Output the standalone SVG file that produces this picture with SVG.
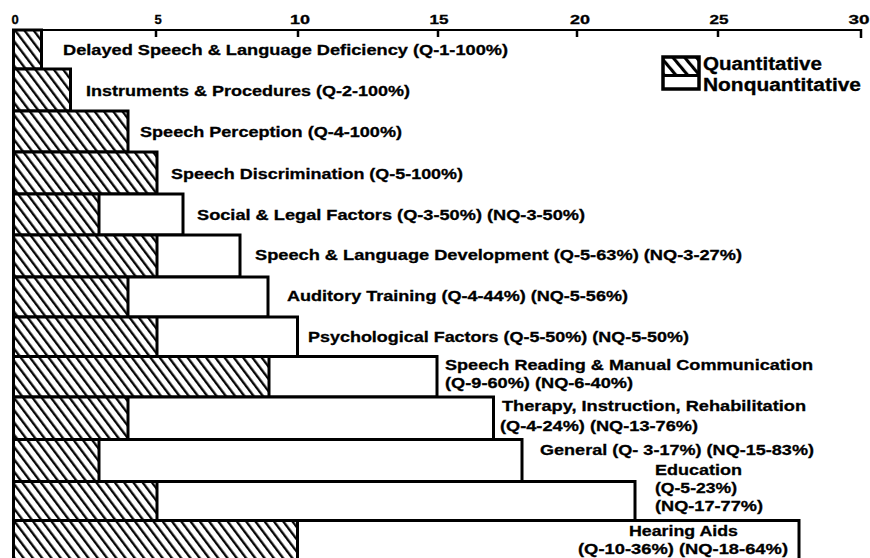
<svg xmlns="http://www.w3.org/2000/svg" width="870" height="558" viewBox="0 0 870 558">
<defs>
<pattern id="hatch" width="7.4" height="10" patternUnits="userSpaceOnUse" patternTransform="rotate(-37)">
<rect width="7.4" height="10" fill="#fff"/>
<line x1="1.2" y1="-1" x2="1.2" y2="11" stroke="#000" stroke-width="2.3"/>
</pattern>
<pattern id="hatchL" width="9" height="10" patternUnits="userSpaceOnUse" patternTransform="rotate(-40)">
<rect width="9" height="10" fill="#fff"/>
<line x1="1.5" y1="-1" x2="1.5" y2="11" stroke="#000" stroke-width="3.2"/>
</pattern>
<style>
.q{fill:url(#hatch);stroke:none}
.nq{fill:#fff;stroke:none}
.ol{fill:none;stroke:#000;stroke-width:3}
.dv{stroke:#000;stroke-width:3}
.lb{font-family:"Liberation Sans",Arial,Helvetica,sans-serif;font-weight:bold;font-size:15px;fill:#000;stroke:#000;stroke-width:0.3}
.ax{font-family:"Liberation Sans",Arial,Helvetica,sans-serif;font-weight:bold;font-size:13px;fill:#000;stroke:#000;stroke-width:0.3;text-anchor:middle}
.lg{font-family:"Liberation Sans",Arial,Helvetica,sans-serif;font-weight:bold;font-size:18px;fill:#000;stroke:#000;stroke-width:0.3}
.tk{stroke:#000;stroke-width:2.5}
</style>
</defs>
<rect width="870" height="558" fill="#fff"/>

<g id="axis">
<line x1="12" y1="30" x2="862" y2="30" stroke="#000" stroke-width="2.2"/>
<line class="tk" x1="156" y1="30" x2="156" y2="37"/>
<line class="tk" x1="298" y1="30" x2="298" y2="37"/>
<line class="tk" x1="438" y1="30" x2="438" y2="37"/>
<line class="tk" x1="577" y1="30" x2="577" y2="37"/>
<line class="tk" x1="718" y1="30" x2="718" y2="37"/>
<line class="tk" x1="861" y1="29" x2="861" y2="38"/>
<text class="ax" x="15" y="23.5">0</text>
<text class="ax" x="158" y="23.5">5</text>
<text class="ax" x="300" y="23.5" textLength="20" lengthAdjust="spacingAndGlyphs">10</text>
<text class="ax" x="439" y="23.5" textLength="19" lengthAdjust="spacingAndGlyphs">15</text>
<text class="ax" x="580" y="23.5" textLength="20" lengthAdjust="spacingAndGlyphs">20</text>
<text class="ax" x="719" y="23.5" textLength="19" lengthAdjust="spacingAndGlyphs">25</text>
<text class="ax" x="859" y="23.5" textLength="21" lengthAdjust="spacingAndGlyphs">30</text>
</g>

<g id="bar1">
<rect class="q" x="13.5" y="30" width="28" height="39"/>
<rect class="ol" x="13.5" y="30" width="28" height="39"/>
<text class="lb" x="63" y="55" textLength="445" lengthAdjust="spacingAndGlyphs">Delayed Speech &amp; Language Deficiency (Q-1-100%)</text>
</g>
<g id="bar2">
<rect class="q" x="13.5" y="69" width="57" height="42"/>
<rect class="ol" x="13.5" y="69" width="57" height="42"/>
<text class="lb" x="86" y="95.5" textLength="324" lengthAdjust="spacingAndGlyphs">Instruments &amp; Procedures (Q-2-100%)</text>
</g>
<g id="bar3">
<rect class="q" x="13.5" y="111" width="114.5" height="41"/>
<rect class="ol" x="13.5" y="111" width="114.5" height="41"/>
<text class="lb" x="140" y="137" textLength="262" lengthAdjust="spacingAndGlyphs">Speech Perception (Q-4-100%)</text>
</g>
<g id="bar4">
<rect class="q" x="13.5" y="152" width="143.5" height="42"/>
<rect class="ol" x="13.5" y="152" width="143.5" height="42"/>
<text class="lb" x="171" y="179" textLength="292" lengthAdjust="spacingAndGlyphs">Speech Discrimination (Q-5-100%)</text>
</g>
<g id="bar5">
<rect class="q" x="13.5" y="194" width="85.5" height="41"/>
<rect class="nq" x="99" y="194" width="84" height="41"/>
<line class="dv" x1="99" y1="194" x2="99" y2="235"/>
<rect class="ol" x="13.5" y="194" width="169.5" height="41"/>
<text class="lb" x="197" y="220" textLength="388" lengthAdjust="spacingAndGlyphs">Social &amp; Legal Factors (Q-3-50%) (NQ-3-50%)</text>
</g>
<g id="bar6">
<rect class="q" x="13.5" y="235" width="143.5" height="42"/>
<rect class="nq" x="157" y="235" width="83" height="42"/>
<line class="dv" x1="157" y1="235" x2="157" y2="277"/>
<rect class="ol" x="13.5" y="235" width="226.5" height="42"/>
<text class="lb" x="255" y="260" textLength="487" lengthAdjust="spacingAndGlyphs">Speech &amp; Language Development (Q-5-63%) (NQ-3-27%)</text>
</g>
<g id="bar7">
<rect class="q" x="13.5" y="277" width="114.5" height="40"/>
<rect class="nq" x="128" y="277" width="140" height="40"/>
<line class="dv" x1="128" y1="277" x2="128" y2="317"/>
<rect class="ol" x="13.5" y="277" width="254.5" height="40"/>
<text class="lb" x="287" y="301" textLength="341" lengthAdjust="spacingAndGlyphs">Auditory Training (Q-4-44%) (NQ-5-56%)</text>
</g>
<g id="bar8">
<rect class="q" x="13.5" y="317" width="143.5" height="39.5"/>
<rect class="nq" x="157" y="317" width="140.5" height="39.5"/>
<line class="dv" x1="157" y1="317" x2="157" y2="356.5"/>
<rect class="ol" x="13.5" y="317" width="284" height="39.5"/>
<text class="lb" x="308" y="342" textLength="381" lengthAdjust="spacingAndGlyphs">Psychological Factors (Q-5-50%) (NQ-5-50%)</text>
</g>
<g id="bar9">
<rect class="q" x="13.5" y="356.5" width="255.5" height="40.5"/>
<rect class="nq" x="269" y="356.5" width="168" height="40.5"/>
<line class="dv" x1="269" y1="356.5" x2="269" y2="397"/>
<rect class="ol" x="13.5" y="356.5" width="423.5" height="40.5"/>
<text class="lb" x="445" y="370" textLength="368" lengthAdjust="spacingAndGlyphs">Speech Reading &amp; Manual Communication</text>
<text class="lb" x="445" y="388" textLength="188" lengthAdjust="spacingAndGlyphs">(Q-9-60%) (NQ-6-40%)</text>
</g>
<g id="bar10">
<rect class="q" x="13.5" y="397" width="114.5" height="42.5"/>
<rect class="nq" x="128" y="397" width="365.5" height="42.5"/>
<line class="dv" x1="128" y1="397" x2="128" y2="439.5"/>
<rect class="ol" x="13.5" y="397" width="480" height="42.5"/>
<text class="lb" x="502" y="411" textLength="304" lengthAdjust="spacingAndGlyphs">Therapy, Instruction, Rehabilitation</text>
<text class="lb" x="500" y="431" textLength="198" lengthAdjust="spacingAndGlyphs">(Q-4-24%) (NQ-13-76%)</text>
</g>
<g id="bar11">
<rect class="q" x="13.5" y="439.5" width="85.5" height="42"/>
<rect class="nq" x="99" y="439.5" width="423" height="42"/>
<line class="dv" x1="99" y1="439.5" x2="99" y2="481.5"/>
<rect class="ol" x="13.5" y="439.5" width="508.5" height="42"/>
<text class="lb" x="540" y="455" textLength="274" lengthAdjust="spacingAndGlyphs">General (Q- 3-17%) (NQ-15-83%)</text>
</g>
<g id="bar12">
<rect class="q" x="13.5" y="481.5" width="143.5" height="39"/>
<rect class="nq" x="157" y="481.5" width="478" height="39"/>
<line class="dv" x1="157" y1="481.5" x2="157" y2="520.5"/>
<rect class="ol" x="13.5" y="481.5" width="621.5" height="39"/>
<text class="lb" x="655" y="475" textLength="87" lengthAdjust="spacingAndGlyphs">Education</text>
<text class="lb" x="655" y="493" textLength="82" lengthAdjust="spacingAndGlyphs">(Q-5-23%)</text>
<text class="lb" x="655" y="511" textLength="108" lengthAdjust="spacingAndGlyphs">(NQ-17-77%)</text>
</g>
<g id="bar13">
<rect class="q" x="13.5" y="520.5" width="284" height="42"/>
<rect class="nq" x="297.5" y="520.5" width="501.5" height="42"/>
<line class="dv" x1="297.5" y1="520.5" x2="297.5" y2="562.5"/>
<rect class="ol" x="13.5" y="520.5" width="785.5" height="42"/>
<text class="lb" x="629" y="536" textLength="109" lengthAdjust="spacingAndGlyphs">Hearing Aids</text>
<text class="lb" x="578" y="554" textLength="210" lengthAdjust="spacingAndGlyphs">(Q-10-36%) (NQ-18-64%)</text>
</g>

<g id="legend">
<rect x="663" y="57" width="36" height="18" fill="url(#hatchL)"/>
<rect x="663" y="75" width="36" height="14" fill="#fff"/>
<line x1="663" y1="75.5" x2="699" y2="75.5" stroke="#000" stroke-width="3"/>
<rect x="663" y="57" width="36" height="32" fill="none" stroke="#000" stroke-width="3.5"/>
<text class="lg" x="703" y="70" textLength="119" lengthAdjust="spacingAndGlyphs">Quantitative</text>
<text class="lg" x="703" y="91" textLength="158" lengthAdjust="spacingAndGlyphs">Nonquantitative</text>
</g>
</svg>
